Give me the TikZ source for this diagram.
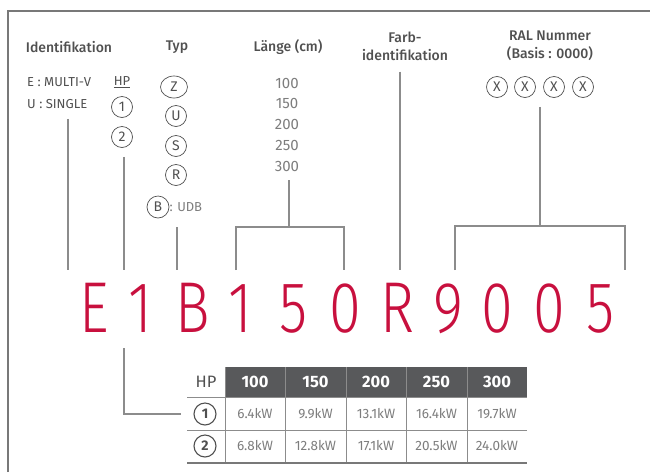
\documentclass[tikz,border=0pt]{standalone}
\usepackage{fontspec}
\setmainfont{Fira Sans}
\newfontfamily\codefont{Fira Sans Light}
\newfontfamily\medfont{Fira Sans Medium}
\usetikzlibrary{shapes.geometric}
\definecolor{lgred}{RGB}{200,16,62}
\definecolor{framegray}{RGB}{120,120,120}
\definecolor{linegray}{RGB}{140,140,140}
\definecolor{textgray}{RGB}{80,80,80}
\definecolor{valgray}{RGB}{125,125,125}
\definecolor{headgray}{RGB}{88,89,91}

\begin{document}
\begin{tikzpicture}[x=1pt,y=-1pt,
    head/.style={font=\fontsize{14}{18}\medfont, text=textgray, align=center, inner sep=0},
    txt/.style={font=\fontsize{13}{15}\selectfont, text=textgray, inner sep=0},
    val/.style={font=\fontsize{13}{15}\selectfont, text=valgray, inner sep=0},
    circ/.style={circle, draw=textgray, line width=0.7, inner sep=0, minimum size=21,
      font=\fontsize{14}{16}\selectfont, text=textgray},
    codech/.style={font=\fontsize{72}{72}\codefont, text=lgred, anchor=base, inner sep=0},
    conn/.style={draw=linegray, line width=1.3}]
  \useasboundingbox (0,0) rectangle (650,472);
  \draw[framegray, line width=2] (8,472) -- (8,11) -- (650,11);

  % headings
  \node[head] (ident) at (69,47) {Identifikation};
  \node[head] (typ) at (177,47) {Typ};
  \node[head] (laenge) at (288,47) {Länge (cm)};
  \node[head] (farb) at (405,46) {Farb-\\identifikation};
  \node[head] (ral) at (550,46) {RAL Nummer\\(Basis : 0000)};

  % identification and HP
  \node[txt, anchor=west] (multi) at (27,82) {E : MULTI-V};
  \node[txt, anchor=west] (single) at (27,104) {U : SINGLE};
  \node[txt] (hp) at (122,82) {\underline{HP}};
  \node[circ] (hp1) at (122,107) {1};
  \node[circ] (hp2) at (122,137) {2};

  % type
  \node[circ, ellipse, minimum width=27, minimum height=22] (tz) at (174,87) {Z};
  \node[circ] (tu) at (176,116) {U};
  \node[circ] (ts) at (176,146) {S};
  \node[circ] (tr) at (176,175) {R};
  \node[circ, minimum size=22] (tb) at (158,207) {B};
  \node[val, anchor=west] (udb) at (tb.east) {: UDB};

  % length
  \foreach \len/\y in {100/83,150/103,200/124,250/145,300/166}
    \node[val, font=\fontsize{15}{17}\selectfont] (l\len) at (287,\y) {\len};

  % RAL digits
  \foreach \cx [count=\i] in {497,525,554,583}
    \node[circ, minimum size=21] (x\i) at (\cx,87) {X};

  % code
  \foreach \ch/\cx [count=\i] in {E/94,1/140,B/193,1/240,5/294,0/345,R/397,9/448,0/497,0/549,5/601}
    \node[codech] (c\i) at (\cx,332) {\scalebox{0.8}[1]{\ch}};

  % connectors to the code
  \coordinate (e1) at (68,270);
  \coordinate (e2) at (124,270);
  \coordinate (e3) at (177,270);
  \coordinate (e4) at (236,270);
  \coordinate (e5) at (344,270);
  \coordinate (e6) at (400,270);
  \coordinate (e7) at (455,270);
  \coordinate (e8) at (625,270);
  \draw[conn] ([yshift=-10]single.south -| e1) -- (e1);
  \draw[conn] ([yshift=-9]hp2.south -| e2) -- (e2);
  \draw[conn] ([yshift=-9]tb.south -| e3) -- (e3);
  \draw[conn] ([yshift=-9]l300.south -| 289,0) -- (289,227) coordinate (lm);
  \draw[conn] (e4) |- (lm) -| (e5);
  \draw[conn] ([yshift=-11]farb.south -| e6) -- (e6);
  \draw[conn] ([yshift=-9]x2.south -| 540,0) -- (540,226) coordinate (rm);
  \draw[conn] (e7) |- (rm) -| (e8);

  % table
  \fill[headgray] (225,367) rectangle (527,397);
  \draw[linegray, line width=0.8] (187,397) -- (527,397) (187,430) -- (527,430);
  \foreach \vx in {225,285,346,406,467}
    \draw[linegray, line width=0.8] (\vx,367) -- (\vx,463);
  \draw[framegray, line width=2.5] (187,463) -- (527,463);
  \node[font=\fontsize{16.5}{18}\selectfont, text=textgray] (hph) at (206,382) {HP};
  \node[circ, line width=1.1, minimum size=22, font=\fontsize{14}{16}\bfseries] (r1) at (205,414) {1};
  \node[circ, line width=1.1, minimum size=22, font=\fontsize{14}{16}\bfseries] (r2) at (205,446) {2};
  \foreach \cx/\len/\a/\b [count=\i] in {255/100/6.4/6.8, 315.5/150/9.9/12.8, 376/200/13.1/17.1, 436.5/250/16.4/20.5, 497/300/19.7/24.0} {
    \node[font=\fontsize{16.5}{18}\bfseries, text=white] (h\i) at (\cx,382) {\len};
    \node[val, font=\fontsize{13.5}{15}\selectfont] (a\i) at (\cx,414) {\a kW};
    \node[val, font=\fontsize{13.5}{15}\selectfont] (b\i) at (\cx,446) {\b kW};
  }
  \coordinate (cd) at (124,348);
  \draw[conn, shorten >=12] (cd) |- (r1.west);
\end{tikzpicture}
\end{document}
